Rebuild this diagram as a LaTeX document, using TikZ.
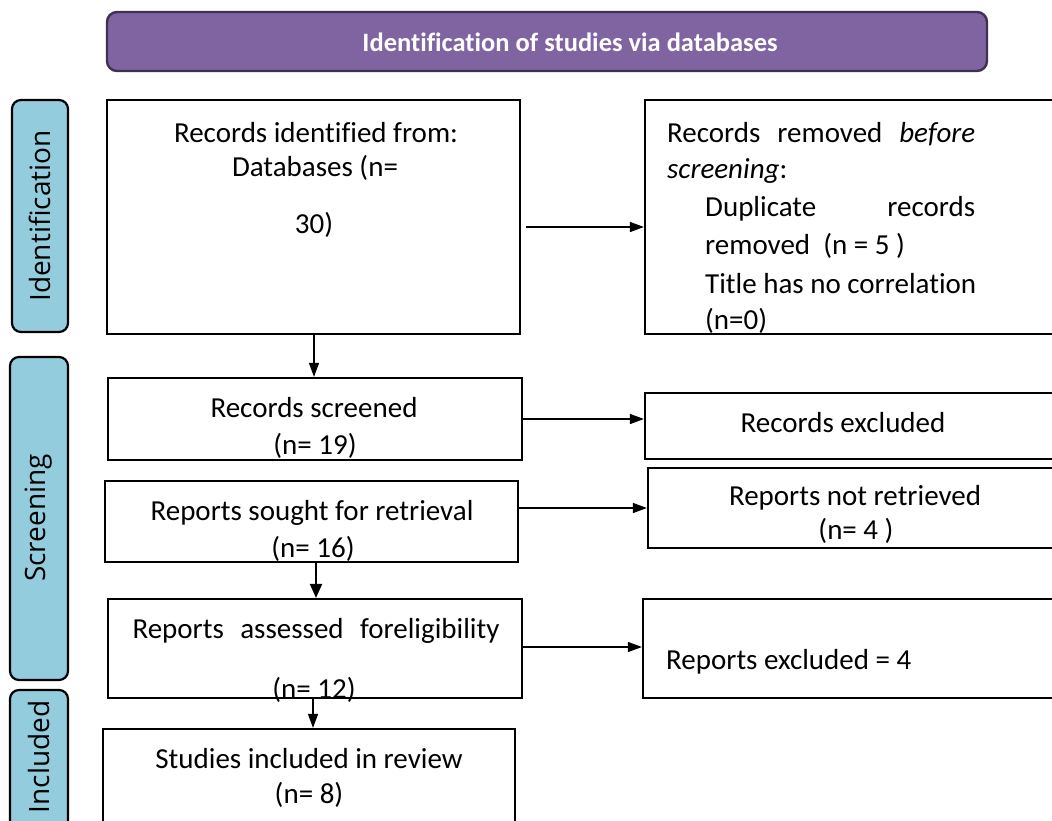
\documentclass[tikz,border=0pt]{standalone}
\usepackage{fontspec}
\setmainfont{Carlito}[Ligatures=NoCommon]
\newfontfamily\phasefont{Open Sans}
\usetikzlibrary{arrows.meta,fit}
\definecolor{purp}{HTML}{8064A2}
\definecolor{purpdark}{HTML}{3F3151}
\definecolor{lblue}{HTML}{93CDDD}
\begin{document}
\begin{tikzpicture}[x=1pt,y=-1pt,
  box/.style={draw=black, line width=2.2pt, inner sep=0pt, fill=white},
  phase/.style={draw=black, line width=2.2pt, fill=lblue, rounded corners=9pt, inner sep=0pt},
  titlebox/.style={draw=purpdark, line width=2.4pt, fill=purp, rounded corners=10pt, inner sep=0pt},
  txt/.style={inner sep=0pt, font=\fontsize{29}{33}\selectfont},
  phasetxt/.style={inner sep=0pt, rotate=90, font=\phasefont\fontsize{28}{32}\selectfont},
  arrthin/.style={line width=1.3pt, -{Triangle[length=14pt,width=10pt]}},
  arrthick/.style={line width=2pt, -{Triangle[length=14pt,width=12pt]}}]
\path[use as bounding box, clip] (0,0) rectangle (1052,820);
\fill[white] (0,0) rectangle (1052,820);

% title
\node[titlebox, fit={(107,12) (987,71)}] (title) {};
\node[inner sep=0pt, text=white, font=\fontsize{26.5}{30}\selectfont\bfseries] (titletxt) at (570,42) {Identification of studies via databases};

% phase labels
\node[phase, fit={(12,100) (68,332)}] (phid) {};
\node[phasetxt] (phidtxt) at (40,216) {Identification};
\node[phase, fit={(10,357) (68,680)}] (phsc) {};
\node[phasetxt] (phsctxt) at (39,518) {Screening};
\node[phase, fit={(10,690) (68,840)}] (phin) {};
\node[phasetxt] (phintxt) at (39,757) {Included};

% boxes
\node[box, fit={(107,100) (520,334)}] (ident) {};
\node[box, fit={(645,100) (1070,334)}] (removed) {};
\node[box, fit={(108,378) (522,460)}] (screened) {};
\node[box, fit={(645,393) (1070,459)}] (recexcl) {};
\node[box, fit={(105,481) (518,562)}] (sought) {};
\node[box, fit={(648,468) (1070,548)}] (notret) {};
\node[box, fit={(108,599) (522,698)}] (assessed) {};
\node[box, fit={(643,599) (1070,698)}] (repexcl) {};
\node[box, fit={(103,729) (515,840)}] (included) {};

% texts
\node[txt] (t1a) at (316,133) {Records identified from:};
\node[txt] (t1b) at (315,168) {Databases (n=};
\node[txt] (t1c) at (314,225) {30)};

\node[txt, anchor=west] (t2a) at (667,134) {\hbox to 308pt{Records\hfill removed\hfill \textit{before}}};
\node[txt, anchor=west] (t2b) at (667,171) {\textit{screening}:};
\node[txt, anchor=west] (t2c) at (705,209) {\hbox to 270pt{Duplicate\hfill records}};
\node[txt, anchor=west] (t2d) at (705,246) {removed~~(n = 5 )};
\node[txt, anchor=west] (t2e) at (705,284) {Title has no correlation};
\node[txt, anchor=west] (t2f) at (705,321) {(n=0)};

\node[txt] (t3a) at (314,408) {Records screened};
\node[txt] (t3b) at (315,446) {(n= 19)};
\node[txt] (t4) at (843,423) {Records excluded};
\node[txt] (t5a) at (312,513) {Reports sought for retrieval};
\node[txt] (t5b) at (313,549) {(n= 16)};
\node[txt] (t6a) at (855,498) {Reports not retrieved};
\node[txt] (t6b) at (856,531) {(n= 4 )};
\node[txt] (t7a) at (316,631) {\hbox to 367pt{Reports\hfill assessed\hfill foreligibility}};
\node[txt] (t7b) at (314,690) {(n= 12)};
\node[txt, anchor=west] (t8) at (666,662) {Reports excluded = 4};
\node[txt] (t9a) at (309,759) {Studies included in review};
\node[txt] (t9b) at (309,795) {(n= 8)};

% connectors
\coordinate (a0) at (526,227);
\draw[arrthin] (a0) -- (a0 -| removed.west);
\coordinate (x1) at (314,0);
\draw[arrthin] (ident.south -| x1) -- (screened.north -| x1);
\coordinate (y1) at (0,419);
\draw[arrthin] (screened.east |- y1) -- (recexcl.west |- y1);
\coordinate (y2) at (0,508);
\draw[arrthin] (sought.east |- y2) -- (notret.west |- y2);
\coordinate (x2) at (316,0);
\draw[arrthick] (sought.south -| x2) -- (assessed.north -| x2);
\coordinate (y3) at (0,647);
\draw[arrthin] (assessed.east |- y3) -- (repexcl.west |- y3);
\coordinate (x3) at (313,0);
\draw[arrthin] (assessed.south -| x3) -- (included.north -| x3);
\end{tikzpicture}
\end{document}
